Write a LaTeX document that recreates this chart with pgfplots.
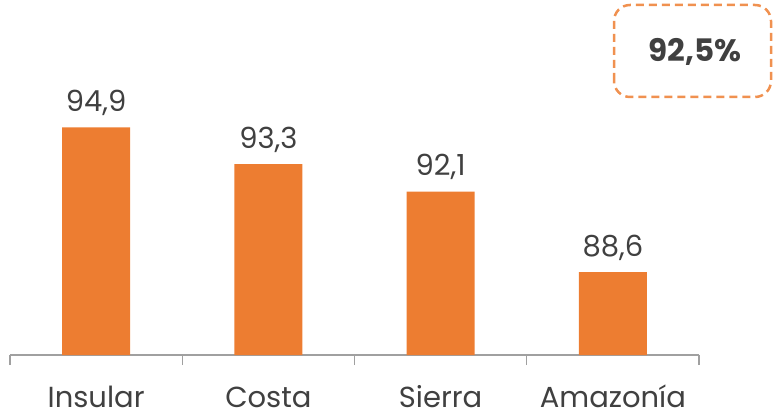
\documentclass[border=0pt]{standalone}
\usepackage{pgfplots}
\pgfplotsset{compat=1.18}
\usepackage{fontspec}
\setmainfont{Poppins}
\definecolor{barorange}{HTML}{ED7D31}
\definecolor{txtgray}{HTML}{404040}
\definecolor{axgray}{HTML}{A0A0A0}
\begin{document}
\begin{tikzpicture}
\path[use as bounding box] (0,0) rectangle (773bp,411bp);
\begin{axis}[
    at={(10bp,56bp)}, anchor=south west,
    scale only axis, width=689bp, height=253bp,
    xmin=-0.5, xmax=3.5, ymin=85, ymax=96,
    axis x line*=bottom, axis y line=none,
    xtick={0,1,2,3}, xticklabels={Insular,Costa,Sierra,Amazonía},
    major x tick style={draw=none},
    minor xtick={-0.5,0.5,1.5,2.5,3.5},
    minor tick length=10bp, tick align=outside,
    x axis line style={axgray, line width=1.2bp},
    minor x tick style={axgray, line width=1.2bp},
    xticklabel style={font=\fontsize{29bp}{34bp}\selectfont, text=txtgray, anchor=base, yshift=-48bp},
    ybar, bar width=68bp, bar shift=0pt,
    nodes near coords,
    nodes near coords style={font=\fontsize{29bp}{34bp}\selectfont, text=txtgray, anchor=base, yshift=16bp, inner sep=0pt},
    /pgf/number format/use comma,
    /pgf/number format/fixed,
    /pgf/number format/fixed zerofill,
    /pgf/number format/precision=1,
    /pgf/number format/assume math mode=true,
    clip=false,
]
\addplot[fill=barorange, draw=none] coordinates {(0,94.9) (1,93.3) (2,92.1) (3,88.6)};
\end{axis}
\draw[barorange!85!white, line width=2.5bp, dash pattern=on 8bp off 5bp, rounded corners=16bp] (614bp,314bp) rectangle (771bp,406bp);
\node[font=\bfseries\fontsize{31bp}{36bp}\selectfont, text=txtgray] at (695bp,359bp) {92,5\%};
\end{tikzpicture}
\end{document}
